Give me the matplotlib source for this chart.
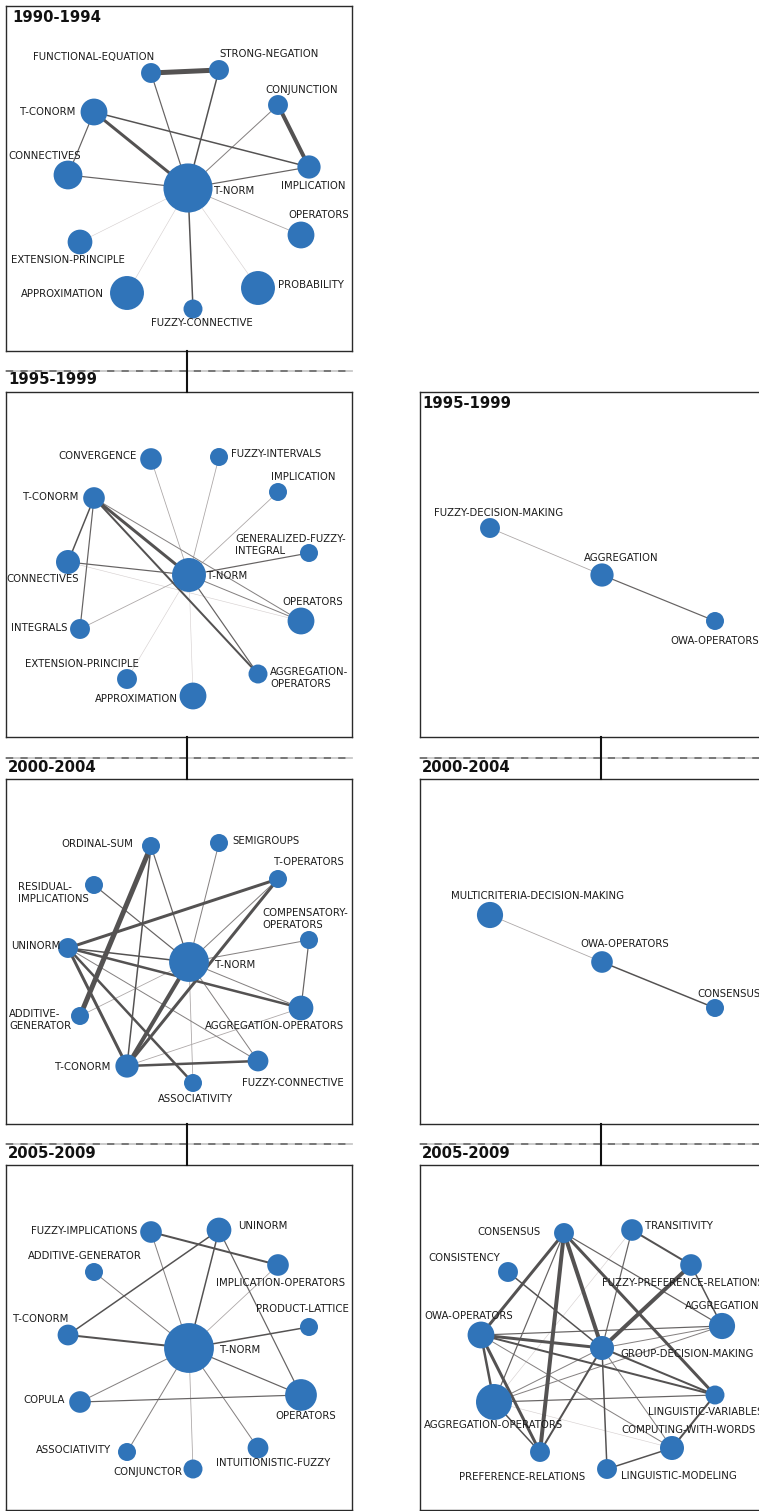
import numpy as np
import matplotlib.pyplot as plt

# period labels
periods = ["1990-1994", "1995-1999", "2000-2004", "2005-2009"]

# ---- 1990-1994 (left column) ----
a_names = ["T-NORM", "FUNCTIONAL-EQUATION", "STRONG-NEGATION", "CONJUNCTION", "T-CONORM",
           "IMPLICATION", "CONNECTIVES", "OPERATORS", "EXTENSION-PRINCIPLE", "APPROXIMATION",
           "PROBABILITY", "FUZZY-CONNECTIVE"]
a_x = [182, 145, 213, 272, 88, 303, 62, 295, 74, 121, 252, 187]
a_y = [182, 67, 64, 99, 106, 161, 169, 229, 236, 287, 282, 303]
a_docs = [67, 11, 11, 11, 20, 15, 23, 20, 17, 32, 32, 10]
a_links = [("FUNCTIONAL-EQUATION", "STRONG-NEGATION", 10), ("CONJUNCTION", "IMPLICATION", 9),
           ("T-CONORM", "T-NORM", 8), ("T-NORM", "FUNCTIONAL-EQUATION", 4),
           ("T-NORM", "STRONG-NEGATION", 5), ("T-CONORM", "CONNECTIVES", 4),
           ("T-CONORM", "IMPLICATION", 5), ("CONNECTIVES", "T-NORM", 4),
           ("T-NORM", "IMPLICATION", 4), ("T-NORM", "CONJUNCTION", 3),
           ("T-NORM", "OPERATORS", 2), ("T-NORM", "EXTENSION-PRINCIPLE", 1),
           ("T-NORM", "APPROXIMATION", 1), ("T-NORM", "PROBABILITY", 1),
           ("T-NORM", "FUZZY-CONNECTIVE", 5)]

# ---- 1995-1999 (left column) ----
b_names = ["T-NORM", "CONVERGENCE", "FUZZY-INTERVALS", "IMPLICATION", "T-CONORM",
           "GENERALIZED-FUZZY-INTEGRAL", "CONNECTIVES", "OPERATORS", "INTEGRALS",
           "EXTENSION-PRINCIPLE", "AGGREGATION-OPERATORS", "APPROXIMATION"]
b_x = [183, 145, 213, 272, 88, 303, 62, 295, 74, 121, 252, 187]
b_y = [183, 67, 65, 100, 106, 161, 170, 229, 237, 287, 282, 304]
b_docs = [32, 13, 9, 9, 13, 9, 16, 20, 11, 11, 10, 20]
b_links = [("T-CONORM", "T-NORM", 8), ("T-CONORM", "AGGREGATION-OPERATORS", 6),
           ("T-CONORM", "OPERATORS", 3), ("T-CONORM", "CONNECTIVES", 5),
           ("T-CONORM", "INTEGRALS", 4), ("CONNECTIVES", "T-NORM", 4),
           ("CONNECTIVES", "OPERATORS", 1), ("T-NORM", "CONVERGENCE", 2),
           ("T-NORM", "FUZZY-INTERVALS", 2), ("T-NORM", "IMPLICATION", 2),
           ("T-NORM", "GENERALIZED-FUZZY-INTEGRAL", 4), ("T-NORM", "OPERATORS", 3),
           ("T-NORM", "INTEGRALS", 2), ("T-NORM", "EXTENSION-PRINCIPLE", 1),
           ("T-NORM", "APPROXIMATION", 1), ("T-NORM", "AGGREGATION-OPERATORS", 4)]

# ---- 1995-1999 (right column) ----
c_names = ["FUZZY-DECISION-MAKING", "AGGREGATION", "OWA-OPERATORS"]
c_x = [70, 182, 295]
c_y = [136, 183, 229]
c_docs = [11, 15, 9]
c_links = [("FUZZY-DECISION-MAKING", "AGGREGATION", 2), ("AGGREGATION", "OWA-OPERATORS", 4)]

# ---- 2000-2004 (left column) ----
d_names = ["T-NORM", "ORDINAL-SUM", "SEMIGROUPS", "T-OPERATORS", "RESIDUAL-IMPLICATIONS",
           "COMPENSATORY-OPERATORS", "UNINORM", "AGGREGATION-OPERATORS", "ADDITIVE-GENERATOR",
           "T-CONORM", "FUZZY-CONNECTIVE", "ASSOCIATIVITY"]
d_x = [183, 145, 213, 272, 88, 303, 62, 295, 74, 121, 252, 187]
d_y = [183, 67, 64, 100, 106, 161, 169, 229, 237, 287, 282, 304]
d_docs = [44, 9, 9, 9, 9, 9, 11, 17, 9, 15, 12, 9]
d_links = [("ORDINAL-SUM", "ADDITIVE-GENERATOR", 10), ("ORDINAL-SUM", "T-CONORM", 5),
           ("ORDINAL-SUM", "T-NORM", 4), ("SEMIGROUPS", "T-NORM", 3),
           ("T-OPERATORS", "UNINORM", 8), ("T-OPERATORS", "T-CONORM", 8),
           ("T-OPERATORS", "T-NORM", 3), ("RESIDUAL-IMPLICATIONS", "T-NORM", 4),
           ("COMPENSATORY-OPERATORS", "T-NORM", 3),
           ("COMPENSATORY-OPERATORS", "AGGREGATION-OPERATORS", 4),
           ("UNINORM", "T-NORM", 5), ("UNINORM", "AGGREGATION-OPERATORS", 7),
           ("UNINORM", "T-CONORM", 8), ("UNINORM", "ASSOCIATIVITY", 7),
           ("UNINORM", "FUZZY-CONNECTIVE", 3), ("ADDITIVE-GENERATOR", "T-NORM", 2),
           ("T-NORM", "T-CONORM", 9), ("T-NORM", "AGGREGATION-OPERATORS", 3),
           ("T-NORM", "FUZZY-CONNECTIVE", 3), ("T-NORM", "ASSOCIATIVITY", 2),
           ("T-CONORM", "FUZZY-CONNECTIVE", 7), ("T-CONORM", "AGGREGATION-OPERATORS", 2)]

# ---- 2000-2004 (right column) ----
e_names = ["MULTICRITERIA-DECISION-MAKING", "OWA-OPERATORS", "CONSENSUS"]
e_x = [70, 182, 295]
e_y = [136, 183, 229]
e_docs = [19, 13, 9]
e_links = [("MULTICRITERIA-DECISION-MAKING", "OWA-OPERATORS", 2), ("OWA-OPERATORS", "CONSENSUS", 5)]

# ---- 2005-2009 (left column) ----
f_names = ["T-NORM", "FUZZY-IMPLICATIONS", "UNINORM", "IMPLICATION-OPERATORS", "ADDITIVE-GENERATOR",
           "PRODUCT-LATTICE", "T-CONORM", "OPERATORS", "COPULA", "ASSOCIATIVITY",
           "INTUITIONISTIC-FUZZY", "CONJUNCTOR"]
f_x = [183, 145, 213, 272, 88, 303, 62, 295, 74, 121, 252, 187]
f_y = [183, 67, 65, 100, 107, 162, 170, 230, 237, 287, 283, 304]
f_docs = [69, 13, 17, 13, 9, 9, 12, 28, 13, 9, 12, 10]
f_links = [("FUZZY-IMPLICATIONS", "IMPLICATION-OPERATORS", 6), ("UNINORM", "T-CONORM", 5),
           ("UNINORM", "T-NORM", 5), ("UNINORM", "OPERATORS", 4),
           ("FUZZY-IMPLICATIONS", "T-NORM", 3), ("ADDITIVE-GENERATOR", "T-NORM", 3),
           ("IMPLICATION-OPERATORS", "T-NORM", 2), ("PRODUCT-LATTICE", "T-NORM", 5),
           ("T-CONORM", "T-NORM", 6), ("T-NORM", "OPERATORS", 4), ("T-NORM", "COPULA", 3),
           ("COPULA", "OPERATORS", 4), ("T-NORM", "ASSOCIATIVITY", 3),
           ("T-NORM", "CONJUNCTOR", 2), ("T-NORM", "INTUITIONISTIC-FUZZY", 3)]

# ---- 2005-2009 (right column) ----
g_names = ["CONSENSUS", "TRANSITIVITY", "CONSISTENCY", "FUZZY-PREFERENCE-RELATIONS", "AGGREGATION",
           "OWA-OPERATORS", "GROUP-DECISION-MAKING", "AGGREGATION-OPERATORS",
           "LINGUISTIC-VARIABLES", "COMPUTING-WITH-WORDS", "PREFERENCE-RELATIONS",
           "LINGUISTIC-MODELING"]
g_x = [144, 212, 88, 271, 302, 61, 182, 74, 295, 252, 120, 187]
g_y = [68, 65, 107, 100, 161, 170, 183, 237, 230, 283, 287, 304]
g_docs = [11, 13, 11, 13, 19, 20, 16, 36, 10, 16, 11, 11]
g_links = [("CONSENSUS", "GROUP-DECISION-MAKING", 9), ("CONSENSUS", "PREFERENCE-RELATIONS", 9),
           ("CONSENSUS", "OWA-OPERATORS", 8), ("CONSENSUS", "LINGUISTIC-VARIABLES", 8),
           ("CONSENSUS", "AGGREGATION", 4), ("CONSENSUS", "AGGREGATION-OPERATORS", 4),
           ("TRANSITIVITY", "FUZZY-PREFERENCE-RELATIONS", 6),
           ("TRANSITIVITY", "AGGREGATION-OPERATORS", 1), ("TRANSITIVITY", "GROUP-DECISION-MAKING", 4),
           ("FUZZY-PREFERENCE-RELATIONS", "GROUP-DECISION-MAKING", 9),
           ("FUZZY-PREFERENCE-RELATIONS", "AGGREGATION", 5),
           ("CONSISTENCY", "GROUP-DECISION-MAKING", 5),
           ("OWA-OPERATORS", "GROUP-DECISION-MAKING", 8), ("OWA-OPERATORS", "AGGREGATION", 4),
           ("OWA-OPERATORS", "LINGUISTIC-VARIABLES", 6), ("OWA-OPERATORS", "PREFERENCE-RELATIONS", 8),
           ("OWA-OPERATORS", "AGGREGATION-OPERATORS", 7), ("OWA-OPERATORS", "COMPUTING-WITH-WORDS", 3),
           ("GROUP-DECISION-MAKING", "AGGREGATION", 3),
           ("GROUP-DECISION-MAKING", "LINGUISTIC-VARIABLES", 6),
           ("GROUP-DECISION-MAKING", "PREFERENCE-RELATIONS", 6),
           ("GROUP-DECISION-MAKING", "LINGUISTIC-MODELING", 5),
           ("GROUP-DECISION-MAKING", "AGGREGATION-OPERATORS", 3),
           ("GROUP-DECISION-MAKING", "COMPUTING-WITH-WORDS", 3),
           ("AGGREGATION-OPERATORS", "AGGREGATION", 3),
           ("AGGREGATION-OPERATORS", "LINGUISTIC-VARIABLES", 4),
           ("AGGREGATION-OPERATORS", "COMPUTING-WITH-WORDS", 1),
           ("AGGREGATION-OPERATORS", "PREFERENCE-RELATIONS", 5),
           ("LINGUISTIC-VARIABLES", "COMPUTING-WITH-WORDS", 6),
           ("COMPUTING-WITH-WORDS", "LINGUISTIC-MODELING", 5)]

# label placement (x, y, ha) in panel pixels, one per node
a_lab = [(208, 185, "left"), (148, 51, "right"), (213, 48, "left"), (296, 84, "center"),
         (69, 106, "right"), (307, 180, "center"), (39, 150, "center"), (313, 209, "center"),
         (62, 254, "center"), (98, 288, "right"), (272, 279, "left"), (196, 317, "center")]
b_lab = [(201, 184, "left"), (131, 64, "right"), (225, 62, "left"), (297, 85, "center"),
         (72, 105, "right"), (229, 153, "left"), (37, 187, "center"), (307, 210, "center"),
         (62, 236, "right"), (76, 272, "center"), (264, 286, "left"), (172, 307, "right")]
c_lab = [(79, 121, "center"), (201, 166, "center"), (295, 249, "center")]
d_lab = [(209, 186, "left"), (127, 65, "right"), (226, 62, "left"), (303, 83, "center"),
         (12, 114, "left"), (256, 140, "left"), (55, 167, "right"), (269, 247, "center"),
         (3, 241, "left"), (104, 288, "right"), (287, 304, "center"), (189, 320, "center")]
e_lab = [(117, 117, "center"), (205, 165, "center"), (277, 215, "left")]
f_lab = [(214, 185, "left"), (131, 66, "right"), (232, 61, "left"), (275, 118, "center"),
         (79, 91, "center"), (296, 144, "center"), (35, 154, "center"), (300, 251, "center"),
         (59, 235, "right"), (105, 285, "right"), (267, 298, "center"), (176, 307, "right")]
g_lab = [(121, 67, "right"), (225, 61, "left"), (44, 93, "center"), (263, 118, "center"),
         (302, 141, "center"), (49, 151, "center"), (200, 189, "left"), (74, 260, "center"),
         (286, 247, "center"), (269, 265, "center"), (102, 312, "center"), (201, 311, "left")]

WRAP = {"GENERALIZED-FUZZY-INTEGRAL": "GENERALIZED-FUZZY-\nINTEGRAL",
        "AGGREGATION-OPERATORS_b": "AGGREGATION-\nOPERATORS",
        "RESIDUAL-IMPLICATIONS": "RESIDUAL-\nIMPLICATIONS",
        "COMPENSATORY-OPERATORS": "COMPENSATORY-\nOPERATORS",
        "ADDITIVE-GENERATOR_d": "ADDITIVE-\nGENERATOR"}

NODE = "#3074b9"
W, H = 346, 345
FW, FH = 759, 1511
col_x = [6, 420]
row_y = [6, 392, 779, 1165]


def edge_style(w):
    px = np.interp(w, [1, 2, 3, 4, 5, 6, 7, 8, 9, 10], [0.6, 0.8, 1.0, 1.2, 1.5, 2.0, 2.5, 3.0, 4.0, 5.0])
    g = np.interp(w, [1, 2, 3, 4, 5], [0.84, 0.67, 0.52, 0.40, 0.33])
    return px * 0.72, (g, g * 0.97, g * 0.97)


def draw_net(ax, key, names, xs, ys, docs, links, labs):
    idx = {n: i for i, n in enumerate(names)}
    for a, b, w in sorted(links, key=lambda l: l[2]):
        i, j = idx[a], idx[b]
        lw, c = edge_style(w)
        ax.plot([xs[i], xs[j]], [ys[i], ys[j]], color=c, lw=lw, zorder=1,
                solid_capstyle="butt")
    r = 3.0 * np.sqrt(np.array(docs, dtype=float))
    ax.scatter(xs, ys, s=(2 * r * 0.72) ** 2, color=NODE, edgecolors="none", zorder=3)
    for n, (lx, ly, ha) in zip(names, labs):
        txt = WRAP.get(n + "_" + key, WRAP.get(n, n))
        ax.text(lx, ly, txt, ha=ha, va="center", fontsize=7.3, color="#1a1a1a",
                zorder=4, linespacing=1.15)


fig = plt.figure(figsize=(FW / 100, FH / 100), dpi=100)
bg = fig.add_axes([0, 0, 1, 1])
bg.set_xlim(0, FW)
bg.set_ylim(FH, 0)
bg.axis("off")
bg.set_zorder(5)
bg.patch.set_visible(False)

panels = [(0, 0, "a", a_names, a_x, a_y, a_docs, a_links, a_lab),
          (0, 1, "b", b_names, b_x, b_y, b_docs, b_links, b_lab),
          (1, 1, "c", c_names, c_x, c_y, c_docs, c_links, c_lab),
          (0, 2, "d", d_names, d_x, d_y, d_docs, d_links, d_lab),
          (1, 2, "e", e_names, e_x, e_y, e_docs, e_links, e_lab),
          (0, 3, "f", f_names, f_x, f_y, f_docs, f_links, f_lab),
          (1, 3, "g", g_names, g_x, g_y, g_docs, g_links, g_lab)]

first_row = {0: 0, 1: 1}
for col, row, key, names, xs, ys, docs, links, labs in panels:
    x0, y0 = col_x[col], row_y[row]
    ax = fig.add_axes([x0 / FW, 1 - (y0 + H) / FH, W / FW, H / FH])
    ax.set_xlim(0, W)
    ax.set_ylim(H, 0)
    ax.set_xticks([])
    ax.set_yticks([])
    for s in ax.spines.values():
        s.set_color("#2a2a2a")
        s.set_linewidth(1.0)
    draw_net(ax, key, names, xs, ys, docs, links, labs)

    if row == first_row[col]:
        tx = x0 + (6 if col == 0 else 2)
        bg.text(tx, y0 + 11, periods[row], fontsize=10.7, fontweight="bold",
                color="#111111", ha="left", va="center")
    else:
        x1 = x0 + W if col == 0 else FW
        ys_ = y0 - 21
        bg.plot([x0, x1], [ys_, ys_], color="#c8c8c8", lw=1.3)
        bg.plot([x0, x1], [ys_, ys_], color="#707070", lw=1.3, dashes=(4, 4))
        bg.text(x0 + 2, y0 - 12, periods[row], fontsize=10.7, fontweight="bold",
                color="#111111", ha="left", va="center")
        cx = x0 + 181
        bg.plot([cx, cx], [row_y[row - 1] + H, y0], color="#111111", lw=1.5)

fig.savefig("out.png", dpi=100)
